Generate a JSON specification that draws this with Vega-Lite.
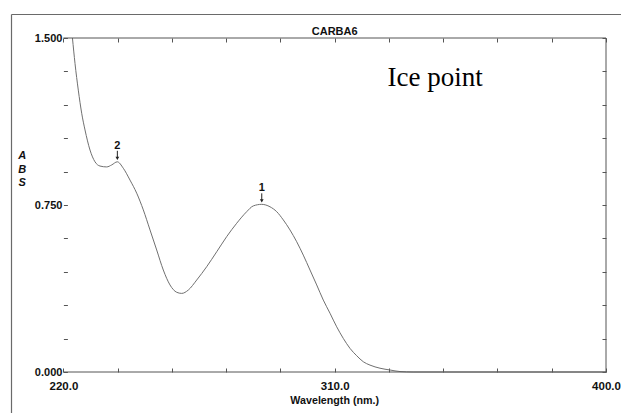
{
  "$schema": "https://vega.github.io/schema/vega-lite/v6.json",
  "width": 610,
  "height": 399,
  "autosize": {"type": "none"},
  "padding": {"left": 11, "top": 14, "right": 0, "bottom": 0},
  "background": "white",
  "config": {
    "view": {"stroke": null},
    "font": "Liberation Sans",
    "axis": {"grid": false, "domainColor": "#555", "tickColor": "#555", "labelColor": "#111", "labelFlush": false, "labelOverlap": false}
  },
  "datasets": {
    "spectrum": [
      {"wl": 223.0, "abs": 1.5},
      {"wl": 223.85, "abs": 1.386},
      {"wl": 224.94, "abs": 1.266},
      {"wl": 226.07, "abs": 1.162},
      {"wl": 227.17, "abs": 1.087},
      {"wl": 228.82, "abs": 0.997},
      {"wl": 230.48, "abs": 0.944},
      {"wl": 232.14, "abs": 0.925},
      {"wl": 234.36, "abs": 0.921},
      {"wl": 236.02, "abs": 0.93},
      {"wl": 237.88, "abs": 0.944},
      {"wl": 239.87, "abs": 0.915},
      {"wl": 242.09, "abs": 0.862},
      {"wl": 244.32, "abs": 0.803},
      {"wl": 246.51, "abs": 0.728},
      {"wl": 248.73, "abs": 0.638},
      {"wl": 250.95, "abs": 0.548},
      {"wl": 253.14, "abs": 0.458},
      {"wl": 255.36, "abs": 0.391},
      {"wl": 257.59, "abs": 0.358},
      {"wl": 259.24, "abs": 0.353},
      {"wl": 261.43, "abs": 0.368},
      {"wl": 264.22, "abs": 0.413},
      {"wl": 267.54, "abs": 0.473},
      {"wl": 270.86, "abs": 0.54},
      {"wl": 274.17, "abs": 0.608},
      {"wl": 277.49, "abs": 0.668},
      {"wl": 280.81, "abs": 0.72},
      {"wl": 283.0, "abs": 0.746},
      {"wl": 285.78, "abs": 0.753},
      {"wl": 288.54, "abs": 0.742},
      {"wl": 290.76, "abs": 0.72},
      {"wl": 292.95, "abs": 0.683},
      {"wl": 295.17, "abs": 0.638},
      {"wl": 297.39, "abs": 0.585},
      {"wl": 299.58, "abs": 0.525},
      {"wl": 301.81, "abs": 0.458},
      {"wl": 304.03, "abs": 0.391},
      {"wl": 306.22, "abs": 0.323},
      {"wl": 308.44, "abs": 0.264},
      {"wl": 310.66, "abs": 0.203},
      {"wl": 312.85, "abs": 0.151},
      {"wl": 315.08, "abs": 0.106},
      {"wl": 317.3, "abs": 0.073},
      {"wl": 319.49, "abs": 0.046},
      {"wl": 321.71, "abs": 0.031},
      {"wl": 325.03, "abs": 0.017},
      {"wl": 328.35, "abs": 0.009},
      {"wl": 331.66, "abs": 0.002},
      {"wl": 336.0, "abs": 0.0},
      {"wl": 400.0, "abs": 0.0}
    ],
    "peaks": [
      {"wl": 237.9, "abs": 0.944, "label": "2"},
      {"wl": 285.8, "abs": 0.753, "label": "1"}
    ]
  },
  "resolve": {"axis": {"x": "independent", "y": "independent"}},
  "layer": [
    {
      "data": {"name": "spectrum"},
      "mark": {"type": "line", "color": "#707070", "strokeWidth": 1, "interpolate": "monotone"},
      "encoding": {
        "x": {"field": "wl", "type": "quantitative", "scale": {"domain": [202.617, 404.976], "nice": false, "zero": false},
          "axis": {"orient": "top", "offset": 0, "domain": true, "ticks": false, "labels": false, "title": null, "domainColor": "#6a6a6a", "domainWidth": 1.2}},
        "y": {"field": "abs", "type": "quantitative", "scale": {"domain": [-0.18413, 1.6078], "nice": false, "zero": false},
          "axis": {"orient": "left", "offset": 0, "domain": true, "ticks": false, "labels": false, "title": null, "domainColor": "#6a6a6a", "domainWidth": 1.2}}
      }
    },
    {
      "data": {"values": [{}]},
      "mark": {"type": "rule", "color": "#555", "strokeWidth": 1},
      "encoding": {
        "x": {"datum": 220, "type": "quantitative",
          "axis": {"orient": "top", "offset": -24, "domain": false, "ticks": true, "tickSize": -4, "labels": false, "title": null,
            "values": [220, 238, 256, 274, 292, 310, 328, 346, 364, 382, 400]}},
        "x2": {"datum": 400},
        "y": {"datum": 1.5, "type": "quantitative",
          "axis": {"orient": "left", "offset": -52.4, "domain": false, "ticks": true, "tickSize": -4, "labels": false, "title": null,
            "values": [0, 0.15, 0.3, 0.45, 0.6, 0.75, 0.9, 1.05, 1.2, 1.35, 1.5]}}
      }
    },
    {
      "data": {"values": [{}]},
      "mark": {"type": "rule", "color": "#555", "strokeWidth": 1},
      "encoding": {
        "x": {"datum": 220, "type": "quantitative",
          "axis": {"orient": "bottom", "offset": -41, "domain": false, "ticks": true, "tickSize": -4, "labels": false, "title": null,
            "values": [220, 238, 256, 274, 292, 310, 328, 346, 364, 382, 400]}},
        "x2": {"datum": 400},
        "y": {"datum": 0, "type": "quantitative",
          "axis": {"orient": "left", "offset": -52.4, "domain": false, "ticks": false, "labels": true, "title": null,
            "values": [0, 0.75, 1.5], "format": ".3f", "labelPadding": 1.5, "labelFontSize": 11, "labelFontWeight": "bold"}}
      }
    },
    {
      "data": {"values": [{}]},
      "mark": {"type": "rule", "color": "#555", "strokeWidth": 1},
      "encoding": {
        "x": {"datum": 400, "type": "quantitative",
          "axis": {"orient": "bottom", "offset": -41, "domain": false, "ticks": false, "labels": true, "title": null,
            "values": [220, 310, 400], "format": ".1f", "labelPadding": 8, "labelFontSize": 11.5, "labelFontWeight": "bold"}},
        "y": {"datum": 0, "type": "quantitative",
          "axis": {"orient": "right", "offset": -15, "domain": false, "ticks": true, "tickSize": -4, "labels": false, "title": null,
            "values": [0, 0.15, 0.3, 0.45, 0.6, 0.75, 0.9, 1.05, 1.2, 1.35, 1.5]}},
        "y2": {"datum": 1.5}
      }
    },
    {
      "data": {"values": [{}]},
      "mark": {"type": "text", "text": "CARBA6", "fontSize": 11, "fontWeight": "bold", "color": "#111", "align": "center", "baseline": "alphabetic", "dy": -3},
      "encoding": {
        "x": {"datum": 310, "type": "quantitative", "axis": null},
        "y": {"datum": 1.5, "type": "quantitative", "axis": null}
      }
    },
    {
      "data": {"values": [{}]},
      "mark": {"type": "text", "text": "Wavelength (nm.)", "fontSize": 10.7, "fontWeight": "bold", "color": "#111", "align": "center", "baseline": "alphabetic", "dy": 32},
      "encoding": {
        "x": {"datum": 310, "type": "quantitative", "axis": null},
        "y": {"datum": 0, "type": "quantitative", "axis": null}
      }
    },
    {
      "data": {"values": [{}]},
      "mark": {"type": "text", "text": ["A", "B", "S"], "lineHeight": 13.5, "fontSize": 11, "fontWeight": "bold", "fontStyle": "italic", "color": "#111", "align": "center", "baseline": "middle"},
      "encoding": {
        "x": {"datum": 206.3, "type": "quantitative", "axis": null},
        "y": {"datum": 0.97, "type": "quantitative", "axis": null}
      }
    },
    {
      "data": {"values": [{}]},
      "mark": {"type": "text", "text": "Ice point", "font": "Liberation Serif", "fontSize": 27, "color": "#000", "align": "center", "baseline": "alphabetic"},
      "encoding": {
        "x": {"datum": 343.3, "type": "quantitative", "axis": null},
        "y": {"datum": 1.284, "type": "quantitative", "axis": null}
      }
    },
    {
      "data": {"name": "peaks"},
      "mark": {"type": "text", "fontSize": 11, "fontWeight": "bold", "color": "#111", "align": "center", "baseline": "alphabetic", "dy": -13},
      "encoding": {
        "x": {"field": "wl", "type": "quantitative", "axis": null},
        "y": {"field": "abs", "type": "quantitative", "axis": null},
        "text": {"field": "label"}
      }
    },
    {
      "data": {"name": "peaks"},
      "mark": {"type": "rule", "color": "#222", "strokeWidth": 1, "yOffset": -11, "y2Offset": -4},
      "encoding": {
        "x": {"field": "wl", "type": "quantitative", "axis": null},
        "y": {"field": "abs", "type": "quantitative", "axis": null},
        "y2": {"field": "abs"}
      }
    },
    {
      "data": {"name": "peaks"},
      "mark": {"type": "point", "shape": "triangle-down", "filled": true, "size": 14, "color": "#222", "opacity": 1, "yOffset": -3.5},
      "encoding": {
        "x": {"field": "wl", "type": "quantitative", "axis": null},
        "y": {"field": "abs", "type": "quantitative", "axis": null}
      }
    }
  ]
}
